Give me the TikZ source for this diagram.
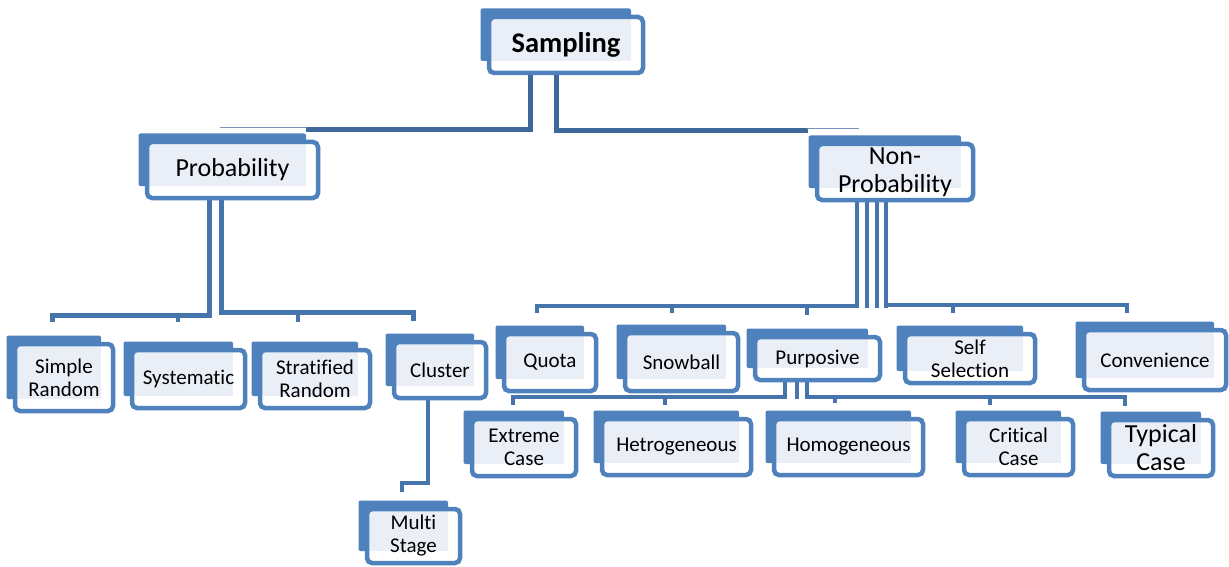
\documentclass[tikz,border=0pt]{standalone}
\usepackage{fontspec}
\setmainfont{Carlito}[Ligatures={NoCommon}]
\definecolor{boxblue}{HTML}{4F81BD}
\definecolor{paleblue}{HTML}{EAEFF7}
\definecolor{linkblue}{HTML}{4674AD}
\definecolor{topblue}{HTML}{3E679B}
\pgfdeclarelayer{background}
\pgfdeclarelayer{canvas}
\pgfsetlayers{canvas,background,main}
\newcommand\leaffont{\fontsize{21}{23}\selectfont}
\newcommand\branchfont{\fontsize{26}{28}\selectfont}
\tikzset{
  card/.style={draw=boxblue, line width=4.5pt, fill=white, rounded corners=5pt,
    inner sep=0pt, outer sep=0pt, align=center, font=\leaffont,
    path picture={\fill[paleblue, sharp corners]
      (path picture bounding box.north west) rectangle
      ([xshift=-12pt,yshift=12pt]path picture bounding box.south east);}},
  shadowcard/.style={fill=boxblue, rounded corners=2pt},
  link/.style={draw=linkblue, line width=4.5pt, line join=miter},
  toplink/.style={draw=topblue, line width=5pt, line join=miter},
  thinlink/.style={draw=topblue!70, line width=1.2pt},
}
% \tagbox[options]{name}{x}{y}{width}{height}{text}
\newcommand\tagbox[7][]{%
  \node[card, minimum width=#5pt, minimum height=#6pt, #1] (#2) at (#3,#4) {#7};
  \begin{pgfonlayer}{background}
    \fill[shadowcard] ([xshift=-8.5pt,yshift=8.5pt]#2.north west) rectangle
      ([xshift=-12pt,yshift=12pt]#2.south east);
  \end{pgfonlayer}}
\begin{document}
\begin{tikzpicture}[x=1pt, y=-1pt]
\begin{pgfonlayer}{canvas}
  \fill[white] (0,0) rectangle (1229,567);
\end{pgfonlayer}
\useasboundingbox (0,0) rectangle (1229,567);

% root and the two branches
\tagbox[font=\bfseries\fontsize{28.5}{30}\selectfont]{sampling}{566}{45}{154}{56}{Sampling}
\tagbox[font=\branchfont]{prob}{232.5}{170}{171}{56}{Probability}
\tagbox[font=\branchfont]{nonprob}{895}{172}{156}{56}{Non-\\Probability}

% probability methods
\tagbox{simple}{64}{377.5}{98}{67}{Simple\\Random}
\tagbox{systematic}{188.5}{379}{113}{58}{Systematic}
\tagbox{stratified}{315}{379}{110}{58}{Stratified\\Random}
\tagbox{cluster}{440}{370}{92}{56}{Cluster}
\tagbox{multistage}{413.5}{536}{93}{54}{Multi\\Stage}

% non-probability methods
\tagbox{quota}{550}{362.5}{92}{57}{Quota}
\tagbox{snowball}{681.5}{362}{113}{58}{Snowball}
\tagbox{purposive}{817.5}{358.5}{125}{43}{Purposive}
\tagbox{selfsel}{970}{358.5}{130}{49}{Self\\Selection}
\tagbox{convenience}{1155}{360}{142}{60}{Convenience}

% purposive sub-types
\tagbox{extreme}{524}{447.5}{104}{57}{Extreme\\Case}
\tagbox{hetero}{676.5}{447}{149}{56}{Hetrogeneous}
\tagbox{homo}{848.5}{447}{149}{56}{Homogeneous}
\tagbox{critical}{1018.5}{447}{109}{56}{Critical\\Case}
\tagbox[font=\branchfont]{typical}{1161}{448}{104}{56}{Typical\\Case}

\begin{pgfonlayer}{background}
  % root to branches
  \draw[toplink] (sampling.south -| 530,0) |- (306,129.5);
  \draw[thinlink] (307,127.5) -- (220,127.5);
  \draw[toplink] (sampling.south -| 556,0) |- (808,130.5);
  \draw[thinlink] (807,128.5) -- (859,128.5);

  % probability tree
  \draw[link, line width=5pt] (prob.south -| 209,0) |- (52,315) -- (52,322);
  \draw[link, line width=5pt] (prob.south -| 221,0) |- (413,312) -- (413,321);
  \draw[link] (178,315) -- (178,322);
  \draw[link] (298,312) -- (298,322);

  % cluster to multi stage
  \draw[link] (cluster.south -| 428,0) |- (402,483) -- (402,492);

  % non-probability tree
  \foreach \x in {857,867,877,886}
    \draw[link, line width=3.8pt] (nonprob.south -| \x,0) -- (\x,308);
  \draw[link] (857,306) -| (537,313);
  \draw[link] (886,305) -| (1127,313);
  \draw[link] (672,306) -- (672,313);
  \draw[link] (807,306) -- (807,315);
  \draw[link] (953,305) -- (953,313);

  % purposive tree
  \draw[link] (purposive.south -| 785,0) |- (513,397) -- (513,405);
  \draw[link] (purposive.south -| 797,0) -- (797,399);
  \draw[link] (purposive.south -| 807,0) |- (1125,397) -- (1125,406);
  \draw[link] (665,397) -- (665,405);
  \draw[link] (835,397) -- (835,403);
  \draw[link] (990,397) -- (990,405);
\end{pgfonlayer}
\end{tikzpicture}
\end{document}
